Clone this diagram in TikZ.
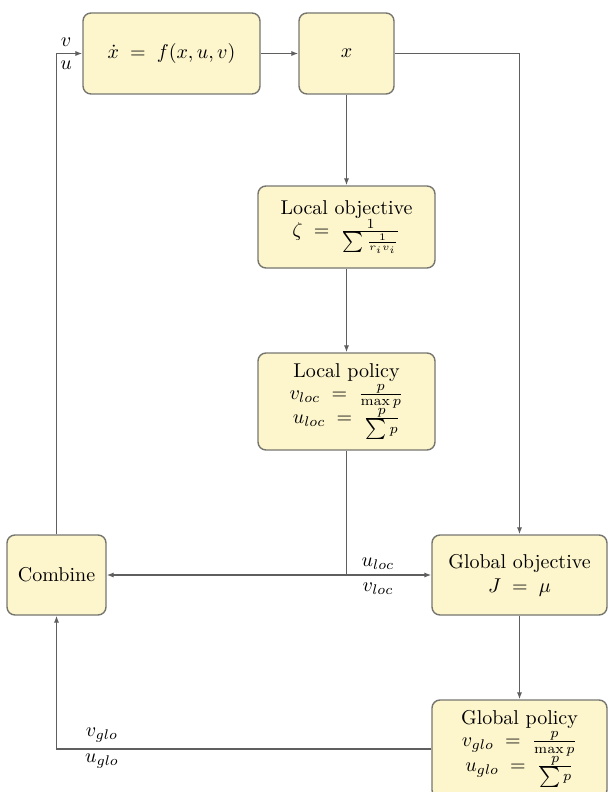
\documentclass[tikz,border=0pt]{standalone}
\usetikzlibrary{arrows.meta}
\definecolor{boxfill}{RGB}{253,245,204}
\definecolor{boxedge}{RGB}{118,118,112}
\definecolor{wirecol}{RGB}{95,95,95}
\begin{document}
\begin{tikzpicture}[x=0.5pt,y=-0.5pt,
  blk/.style={draw=boxedge, fill=boxfill, rounded corners=4pt, line width=0.7pt,
              align=center, inner sep=0pt},
  wire/.style={draw=wirecol, line width=0.6pt},
  arr/.style={wire, -{Latex[length=3.5pt,width=2.6pt]}},
  lbl/.style={inner sep=0pt}]
\useasboundingbox (0,0) rectangle (608,792);
\clip (0,0) rectangle (608,792);

% blocks
\node[blk, minimum width=88.5pt, minimum height=40.5pt] (dyn) at (171.5,53.5)
  {$\dot{x} \;=\; f(x,u,v)$};
\node[blk, minimum width=47.5pt, minimum height=40.5pt] (xs) at (346.5,53.5) {$x$};
\node[blk, minimum width=88.5pt, minimum height=41pt] (lobj) at (346.5,227)
  {Local objective\\[-1pt] $\zeta \;=\; \frac{1}{\sum\frac{1}{r_i v_i}}$};
\node[blk, minimum width=88.5pt, minimum height=48.5pt] (lpol) at (346.5,401.5)
  {Local policy\\[-1pt] $v_{loc} \;=\; \frac{p}{\max p}$\\[-1pt] $u_{loc} \;=\; \frac{p}{\sum p}$};
\node[blk, minimum width=87.5pt, minimum height=40pt] (gobj) at (519.5,575)
  {Global objective\\ $J \;=\; \mu$};
\node[blk, minimum width=49.5pt, minimum height=40pt] (comb) at (56.5,575) {Combine};
\node[blk, minimum width=87.5pt, minimum height=49pt] (gpol) at (519.5,749)
  {Global policy\\[-1pt] $v_{glo} \;=\; \frac{p}{\max p}$\\[-1pt] $u_{glo} \;=\; \frac{p}{\sum p}$};

% routing points
\coordinate (j) at (lpol.south |- comb.east);
\coordinate (ctop) at (comb.north |- dyn.west);
\coordinate (xr) at (gobj.north |- xs.east);
\coordinate (cbot) at (comb.south |- gpol.west);

% connectors
\draw[arr] (comb.north) -- (ctop) -- (dyn.west);
\draw[arr] (dyn.east) -- (xs.west);
\draw[arr] (xs.east) -- (xr) -- (gobj.north);
\draw[arr] (xs.south) -- (lobj.north);
\draw[arr] (lobj.south) -- (lpol.north);
\draw[wire] (lpol.south) -- (j);
\draw[arr] (j) -- (comb.east);
\draw[arr] (j) -- (gobj.west);
\draw[arr] (gobj.south) -- (gpol.north);
\draw[arr] (gpol.west) -- (cbot) -- (comb.south);

% signal labels
\node[lbl] (lv) at (66,42) {$v$};
\node[lbl] (lu) at (66,65) {$u$};
\node[lbl] (lul) at (378,564) {$u_{loc}$};
\node[lbl] (lvl) at (378,589) {$v_{loc}$};
\node[lbl] (lvg) at (102,735) {$v_{glo}$};
\node[lbl] (lug) at (102,761) {$u_{glo}$};
\end{tikzpicture}
\end{document}
